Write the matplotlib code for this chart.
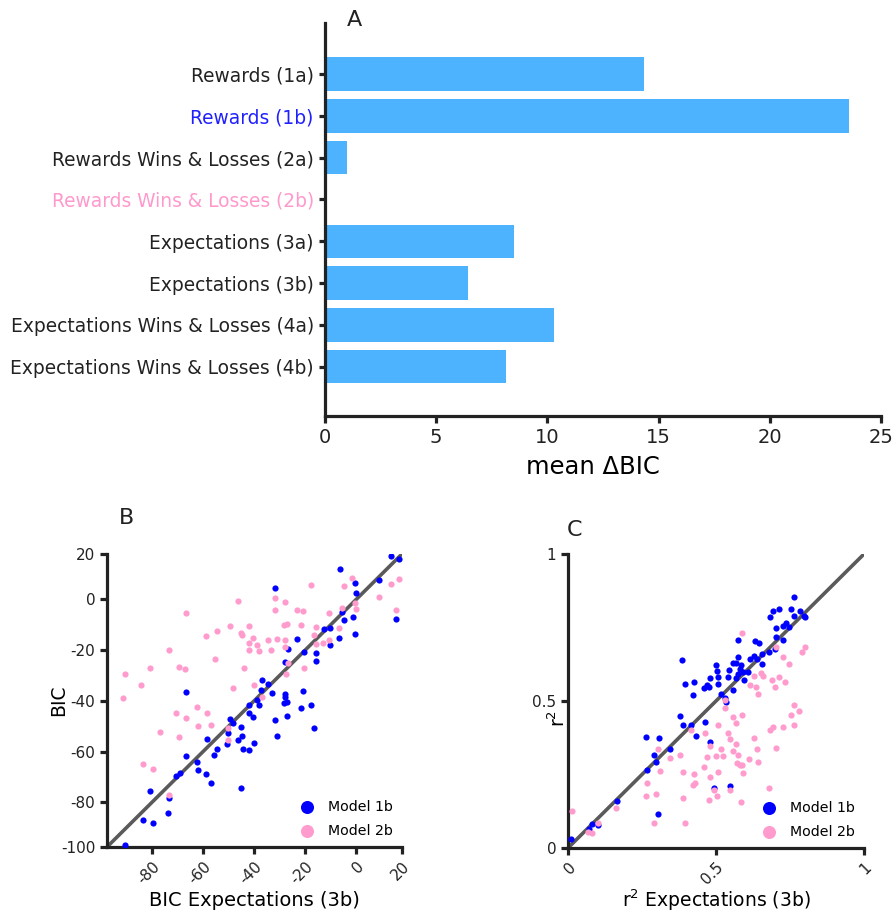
import matplotlib
matplotlib.use('Agg')
import matplotlib.pyplot as plt
import numpy as np

plt.rcParams['font.family'] = ['DejaVu Sans']

# ---------------- Panel A data ----------------
models = ['Rewards (1a)', 'Rewards (1b)', 'Rewards Wins & Losses (2a)',
          'Rewards Wins & Losses (2b)', 'Expectations (3a)', 'Expectations (3b)',
          'Expectations Wins & Losses (4a)', 'Expectations Wins & Losses (4b)']
mean_dbic = [14.36, 23.58, 0.98, 0.0, 8.51, 6.44, 10.31, 8.14]
label_colors = ['#222222', '#2020ff', '#222222', '#ff99cc',
                '#222222', '#222222', '#222222', '#222222']
a_xticks = [0, 5, 10, 15, 20, 25]

# ---------------- Panel B data (BIC) ----------------
b_blue_x = [13.5, 16.6, -6.5, 9.0, -0.5, -31.9, 0.0, -5.6, -4.8, -1.4, 15.4, -0.7, -12.8, -10.5,
            -6.9, -23.3, -10.5, -26.6, -15.7, -20.4, -15.7, -28.1, -36.8, -34.7, -37.2, -33.2,
            -28.1, -28.1, -20.9, -66.6, -39.0, -42.1, -38.1, -28.3, -27.2, -21.7, -17.7, -42.1,
            -40.4, -49.5, -48.2, -31.7, -27.0, -45.3, -50.3, -44.6, -31.0, -16.6, -58.4, -46.3,
            -50.7, -54.5, -44.4, -42.1, -40.2, -55.6, -66.8, -62.2, -62.0, -69.2, -70.6, -59.0,
            -56.8, -45.0, -80.6, -73.3, -73.6, -83.5, -79.6, -90.5]
b_blue_y = [17.1, 15.8, 12.0, 7.7, 6.4, 4.3, 2.5, -5.1, -8.2, -7.1, -7.9, -13.9, -11.7, -11.3,
            -15.3, -15.8, -18.1, -19.6, -21.3, -20.8, -24.3, -24.7, -31.8, -33.4, -35.7, -36.9,
            -37.2, -38.4, -36.3, -36.7, -39.7, -41.5, -41.8, -41.0, -40.6, -42.7, -41.6, -45.0,
            -46.5, -47.3, -48.7, -47.4, -45.9, -50.5, -52.6, -53.7, -53.7, -50.8, -55.0, -55.5,
            -57.1, -58.9, -59.0, -59.3, -56.5, -61.3, -61.7, -64.3, -67.2, -68.6, -69.8, -68.9,
            -72.4, -74.2, -75.5, -78.4, -84.2, -86.9, -88.1, -97.0]
b_pink_x = [-17.7, -5.0, -1.6, 13.4, 16.6, 9.0, 15.3, -46.2, -31.8, -28.1, -31.8, -23.3, -20.8,
            -66.8, -10.6, -5.6, -0.7, -0.1, -49.5, -42.0, -45.0, -44.6, -40.4, -54.5, -59.0,
            -28.5, -27.0, -21.7, -15.7, -6.8, -16.8, -15.7, -13.1, -10.6, -34.7, -31.2, -28.1,
            -42.1, -39.0, -42.1, -38.1, -33.4, -27.9, -73.3, -55.5, -44.1, -26.8, -20.4, -27.5,
            -80.6, -69.4, -66.9, -90.5, -84.3, -91.5, -48.2, -40.2, -36.9, -62.2, -70.6, -58.5,
            -66.8, -56.8, -62.0, -76.7, -69.4, -50.4, -50.3, -83.5, -79.6, -73.3]
b_pink_y = [5.4, 5.1, 8.2, 5.9, 8.1, 0.8, -4.2, -0.9, 0.3, -1.2, -4.2, -4.3, -4.6,
            -5.6, -5.6, -3.5, -1.4, -3.7, -10.6, -10.6, -13.5, -14.1, -15.1, -12.4, -14.4,
            -10.1, -9.6, -10.3, -11.1, -11.3, -14.0, -17.7, -17.4, -16.2, -16.0, -15.6, -16.1,
            -17.1, -18.1, -20.0, -20.6, -20.0, -18.8, -19.9, -23.7, -27.0, -25.1, -27.2, -29.6,
            -27.0, -26.6, -27.5, -29.3, -33.6, -38.9, -35.0, -33.6, -38.4, -42.3, -44.9, -45.0,
            -46.6, -49.6, -50.0, -52.2, -54.1, -50.7, -55.5, -65.1, -66.9, -77.1]
b_lim = (-97.6, 17.8)
b_xticks = [-80, -60, -40, -20, 0, 17.8]
b_xticklabels = ['-80', '-60', '-40', '-20', '0', '20']
b_yticks = [-97.6, -80, -60, -40, -20, 0, 17.8]
b_yticklabels = ['-100', '-80', '-60', '-40', '-20', '0', '20']

# ---------------- Panel C data (r^2) ----------------
c_blue_x = [0.765, 0.693, 0.712, 0.681, 0.754, 0.783, 0.765, 0.797, 0.802, 0.737, 0.728, 0.745,
            0.702, 0.703, 0.728, 0.631, 0.645, 0.576, 0.678, 0.701, 0.384, 0.575, 0.628, 0.654,
            0.616, 0.640, 0.656, 0.556, 0.566, 0.584, 0.499, 0.503, 0.545, 0.580, 0.591, 0.608,
            0.573, 0.479, 0.508, 0.540, 0.567, 0.593, 0.396, 0.427, 0.470, 0.475, 0.460, 0.507,
            0.421, 0.518, 0.531, 0.557, 0.534, 0.379, 0.389, 0.417, 0.463, 0.431, 0.262, 0.309,
            0.480, 0.344, 0.290, 0.296, 0.266, 0.546, 0.492, 0.304, 0.164, 0.081, 0.070, 0.100,
            0.011]
c_blue_y = [0.854, 0.805, 0.812, 0.786, 0.812, 0.805, 0.789, 0.788, 0.786, 0.766, 0.755, 0.753,
            0.749, 0.719, 0.709, 0.704, 0.696, 0.708, 0.667, 0.676, 0.640, 0.651, 0.653, 0.659,
            0.642, 0.642, 0.625, 0.629, 0.630, 0.623, 0.621, 0.602, 0.605, 0.609, 0.597, 0.600,
            0.593, 0.578, 0.581, 0.581, 0.579, 0.572, 0.557, 0.563, 0.553, 0.548, 0.544, 0.557,
            0.520, 0.524, 0.510, 0.538, 0.496, 0.448, 0.419, 0.417, 0.427, 0.382, 0.376, 0.373,
            0.361, 0.337, 0.315, 0.291, 0.265, 0.212, 0.203, 0.117, 0.159, 0.082, 0.065, 0.079,
            0.032]
c_pink_x = [0.587, 0.702, 0.800, 0.790, 0.728, 0.748, 0.627, 0.658, 0.653, 0.689, 0.712, 0.734,
            0.701, 0.616, 0.634, 0.642, 0.531, 0.531, 0.589, 0.557, 0.567, 0.507, 0.765, 0.754,
            0.782, 0.681, 0.693, 0.728, 0.763, 0.463, 0.539, 0.547, 0.567, 0.628, 0.479, 0.516,
            0.640, 0.703, 0.379, 0.470, 0.499, 0.522, 0.557, 0.575, 0.572, 0.587, 0.580, 0.610,
            0.643, 0.458, 0.507, 0.591, 0.479, 0.389, 0.426, 0.421, 0.430, 0.310, 0.266, 0.296,
            0.262, 0.387, 0.493, 0.502, 0.478, 0.546, 0.583, 0.679, 0.163, 0.396, 0.290, 0.012,
            0.100, 0.069, 0.081, 0.304, 0.344, 0.416]
c_pink_y = [0.730, 0.685, 0.684, 0.665, 0.649, 0.627, 0.586, 0.584, 0.595, 0.572, 0.580, 0.563,
            0.549, 0.555, 0.548, 0.525, 0.504, 0.476, 0.454, 0.444, 0.424, 0.417, 0.485, 0.454,
            0.465, 0.400, 0.413, 0.411, 0.417, 0.391, 0.390, 0.371, 0.353, 0.374, 0.348, 0.337,
            0.336, 0.341, 0.318, 0.308, 0.314, 0.313, 0.330, 0.318, 0.289, 0.282, 0.284, 0.302,
            0.294, 0.274, 0.258, 0.255, 0.242, 0.258, 0.253, 0.215, 0.220, 0.262, 0.220, 0.183,
            0.176, 0.169, 0.198, 0.176, 0.164, 0.196, 0.156, 0.205, 0.136, 0.084, 0.086, 0.125,
            0.085, 0.055, 0.050, 0.336, 0.306, 0.402]
c_ticks = [0, 0.5, 1]
c_ticklabels = ['0', '0.5', '1']

BAR = '#4db3fe'
BLUE = '#0000ff'
PINK = '#ff9ccd'
DARK = '#222222'
LINE = '#5a5a5a'

fig = plt.figure(figsize=(8.96, 9.13), dpi=100)


def style(ax):
    for s in ['top', 'right']:
        ax.spines[s].set_visible(False)
    for s in ['left', 'bottom']:
        ax.spines[s].set_linewidth(2.3)
        ax.spines[s].set_color(DARK)
    ax.tick_params(width=2.3, length=5, color=DARK, labelcolor=DARK)


# ---------------- Panel A ----------------
axA = fig.add_axes([0.3627, 0.5444, 0.6205, 0.4307])
ypos = np.arange(len(models))
axA.barh(ypos, mean_dbic, height=0.8, color=BAR, zorder=2)
axA.set_xlim(0, 25)
axA.set_ylim(len(models) - 1 + 1.18, -1.23)
style(axA)
axA.set_yticks(ypos)
axA.set_yticklabels(models, fontsize=13.4)
axA.set_xticks(a_xticks)
axA.set_xticklabels([str(t) for t in a_xticks], fontsize=14)
axA.set_xlabel('mean ΔBIC', fontsize=17.5)
axA.xaxis.label.set_va('center')
axA.xaxis.set_label_coords(0.482, -0.13)
axA.tick_params(axis='y', length=4, pad=4)
for lbl, c in zip(axA.get_yticklabels(), label_colors):
    lbl.set_color(c)
fig.text(354 / 896, 1 - 20 / 913, 'A', fontsize=16, ha='center', va='center', color=DARK)

# ---------------- Panel B ----------------
axB = fig.add_axes([0.1194, 0.0723, 0.3292, 0.3209])
axB.plot(b_lim, b_lim, color=LINE, lw=2.6, zorder=2, solid_capstyle='butt')
axB.scatter(b_blue_x, b_blue_y, s=20, color=BLUE, linewidths=0, zorder=3, label='Model 1b')
axB.scatter(b_pink_x, b_pink_y, s=20, color=PINK, linewidths=0, zorder=4, label='Model 2b')
axB.set_xlim(b_lim)
axB.set_ylim(b_lim)
style(axB)
axB.set_xticks(b_xticks)
axB.set_xticklabels(b_xticklabels, fontsize=11, rotation=45, ha='right', va='top',
                    rotation_mode='anchor')
axB.set_yticks(b_yticks)
axB.set_yticklabels(b_yticklabels, fontsize=11)
axB.set_xlabel('BIC Expectations (3b)', fontsize=14)
axB.xaxis.label.set_va('center')
axB.xaxis.set_label_coords(0.5, -0.181)
axB.set_ylabel('BIC', fontsize=13.5)
axB.yaxis.label.set_va('center')
axB.yaxis.set_label_coords(-0.165, 0.5)
axB.legend(loc='lower right', frameon=False, fontsize=10.2, markerscale=2.1,
           handletextpad=0.5, borderaxespad=0.25, labelspacing=0.7)
fig.text(126 / 896, 1 - 518 / 913, 'B', fontsize=16, ha='center', va='center', color=DARK)

# ---------------- Panel C ----------------
axC = fig.add_axes([0.6339, 0.0712, 0.3304, 0.322])
axC.plot([0, 1], [0, 1], color=LINE, lw=2.6, zorder=2, solid_capstyle='butt')
axC.scatter(c_blue_x, c_blue_y, s=20, color=BLUE, linewidths=0, zorder=3, label='Model 1b')
axC.scatter(c_pink_x, c_pink_y, s=20, color=PINK, linewidths=0, zorder=4, label='Model 2b')
axC.set_xlim(0, 1)
axC.set_ylim(0, 1)
style(axC)
axC.set_xticks(c_ticks)
axC.set_xticklabels(c_ticklabels, fontsize=11, rotation=45, ha='right', va='top',
                    rotation_mode='anchor')
axC.set_yticks(c_ticks)
axC.set_yticklabels(c_ticklabels, fontsize=11)
axC.set_xlabel('r$^2$ Expectations (3b)', fontsize=13.5)
axC.xaxis.label.set_va('center')
axC.xaxis.set_label_coords(0.5, -0.177)
axC.set_ylabel('r$^2$', fontsize=13.5)
axC.yaxis.label.set_va('center')
axC.yaxis.set_label_coords(-0.034, 0.44)
axC.legend(loc='lower right', frameon=False, fontsize=10.2, markerscale=2.1,
           handletextpad=0.5, borderaxespad=0.25, labelspacing=0.7)
fig.text(575 / 896, 1 - 530 / 913, 'C', fontsize=16, ha='center', va='center', color=DARK)

fig.savefig('out.png', dpi=100)
